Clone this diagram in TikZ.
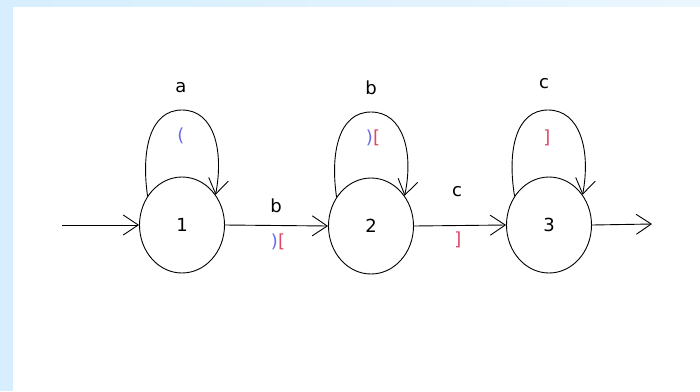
\documentclass[tikz,border=0pt]{standalone}
\usepackage{fontspec}
\setmainfont{DejaVu Sans}
\usetikzlibrary{shapes.geometric,arrows.meta}
\definecolor{frameblue}{HTML}{D6EEFD}
\definecolor{framelight}{HTML}{EAF6FE}
\definecolor{lblblue}{HTML}{6A6AE8}
\definecolor{lblred}{HTML}{E0476A}
\tikzset{
  state/.style={draw=black, line width=0.9pt, ellipse, minimum width=85pt, minimum height=96pt, inner sep=0pt, font=\fontsize{18}{20}\selectfont},
  edge/.style={draw=black, line width=0.9pt, -{Straight Barb[length=15pt,width=20pt,line width=0.9pt]}},
  lbl/.style={font=\fontsize{18}{20}\selectfont, inner sep=0pt},
}
\begin{document}
\begin{tikzpicture}[x=1pt,y=-1pt]
\useasboundingbox (0,0) rectangle (700,391);
\fill[white] (0,0) rectangle (700,391);
\shade[left color=frameblue, right color=framelight] (0,0) rectangle (700,6);
\fill[frameblue] (0,0) rectangle (13,391);

\node[state] (n1) at (182,225) {1};
\node[state] (n2) at (371,226) {2};
\node[state] (n3) at (549,225) {3};

\coordinate (in) at (62,225);
\coordinate (out) at (652,224);
\coordinate (t1) at (182,110);
\coordinate (t2) at (371,112);
\coordinate (t3) at (548,110);

\draw[edge] (in) -- (n1.west);
\draw[edge] (n1.east) -- (n2.west);
\draw[edge] (n2.east) -- (n3.west);
\draw[edge] (n3.east) -- (out);

\draw[edge] (n1.140) .. controls (141,150) and (150,110) .. (t1)
  .. controls (214,110) and (224,150) .. (n1.42);
\draw[edge] (n2.140) .. controls (330,152) and (339,112) .. (t2)
  .. controls (403,112) and (414,152) .. (n2.42);
\draw[edge] (n3.140) .. controls (507,150) and (516,110) .. (t3)
  .. controls (580,110) and (591,150) .. (n3.42);

\node[lbl] (la) at (181,88) {a};
\node[lbl, text=lblblue] (la2) at (181,136) {(};
\node[lbl] (lb) at (371,88) {b};
\node[lbl] (lb2) at (373,138) {\textcolor{lblblue}{)}\textcolor{lblred}{[}};
\node[lbl] (lc) at (544,84) {c};
\node[lbl, text=lblred] (lc2) at (547,138) {]};
\node[lbl] (e1) at (276,206) {b};
\node[lbl] (e1b) at (278,242) {\textcolor{lblblue}{)}\textcolor{lblred}{[}};
\node[lbl] (e2) at (457,192) {c};
\node[lbl, text=lblred] (e2b) at (458,240) {]};
\end{tikzpicture}
\end{document}
